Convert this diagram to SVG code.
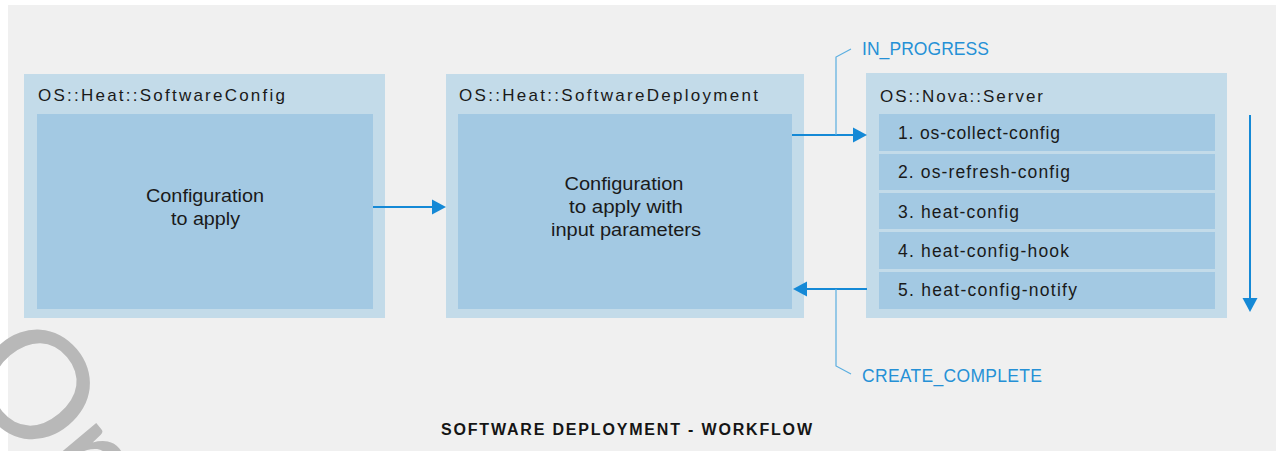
<svg xmlns="http://www.w3.org/2000/svg" width="1276" height="451" viewBox="0 0 1276 451">
  <defs>
    <style>
      .bg { fill: #f0f0f0; }
      .outer { fill: #c3dbe9; }
      .inner { fill: #a3c9e3; }
      .title { font-family: "Liberation Sans", "Noto Sans", sans-serif; font-size: 17px; fill: #1a1a1a; }
      .body { font-family: "Liberation Sans", "Noto Sans", sans-serif; font-size: 17.5px; fill: #1a1a1a; text-anchor: middle; }
      .item { font-family: "Liberation Sans", "Noto Sans", sans-serif; font-size: 17.5px; fill: #1a1a1a; }
      .status { font-family: "Liberation Sans", "Noto Sans", sans-serif; font-size: 17.5px; fill: #2590d6; }
      .caption { font-family: "Liberation Sans", "Noto Sans", sans-serif; font-size: 16px; font-weight: bold; fill: #151515; }
      .line { stroke: #1589d6; stroke-width: 2; fill: none; }
      .leader { stroke: #5aaee0; stroke-width: 1.2; fill: none; }
      .head { fill: #1589d6; }
      .wm { font-family: Lato, "Liberation Sans", sans-serif; font-weight: 400; font-size: 150px; fill: #b8b8b8; }
    </style>
  </defs>

  <rect class="bg" x="8" y="5" width="1268" height="446"/>

  <g id="node-softwareconfig">
    <rect class="outer" x="24" y="74" width="361" height="244"/>
    <rect class="inner" x="37" y="114" width="336" height="195"/>
    <text class="title" x="38" y="101" textLength="247" lengthAdjust="spacing">OS::Heat::SoftwareConfig</text>
    <text class="body" x="205" y="202" textLength="118" lengthAdjust="spacingAndGlyphs">Configuration</text>
    <text class="body" x="205.5" y="225" textLength="69" lengthAdjust="spacingAndGlyphs">to apply</text>
  </g>

  <g id="node-softwaredeployment">
    <rect class="outer" x="446" y="74" width="358" height="244"/>
    <rect class="inner" x="458" y="114" width="334" height="195"/>
    <text class="title" x="459" y="101" textLength="299" lengthAdjust="spacing">OS::Heat::SoftwareDeployment</text>
    <text class="body" x="624" y="190" textLength="119" lengthAdjust="spacingAndGlyphs">Configuration</text>
    <text class="body" x="626" y="213" textLength="114" lengthAdjust="spacingAndGlyphs">to apply with</text>
    <text class="body" x="626" y="236" textLength="150" lengthAdjust="spacingAndGlyphs">input parameters</text>
  </g>

  <g id="node-novaserver">
    <rect class="outer" x="866" y="73" width="361" height="245"/>
    <text class="title" x="880" y="102" textLength="163" lengthAdjust="spacing">OS::Nova::Server</text>
    <g id="step-1">
      <rect class="inner" x="879" y="114" width="336" height="37"/>
      <text class="item" x="898" y="139" textLength="162" lengthAdjust="spacing">1. os-collect-config</text>
    </g>
    <g id="step-2">
      <rect class="inner" x="879" y="154" width="336" height="36"/>
      <text class="item" x="898" y="178" textLength="172" lengthAdjust="spacing">2. os-refresh-config</text>
    </g>
    <g id="step-3">
      <rect class="inner" x="879" y="193" width="336" height="36"/>
      <text class="item" x="898" y="218" textLength="121" lengthAdjust="spacing">3. heat-config</text>
    </g>
    <g id="step-4">
      <rect class="inner" x="879" y="232" width="336" height="37"/>
      <text class="item" x="898" y="257" textLength="171" lengthAdjust="spacing">4. heat-config-hook</text>
    </g>
    <g id="step-5">
      <rect class="inner" x="879" y="272" width="336" height="37"/>
      <text class="item" x="898" y="296" textLength="179" lengthAdjust="spacing">5. heat-config-notify</text>
    </g>
  </g>

  <g id="connectors">
    <line class="line" x1="373" y1="207" x2="433" y2="207"/>
    <polygon class="head" points="432,199.5 446,207 432,214.5"/>

    <line class="line" x1="792" y1="135" x2="854" y2="135"/>
    <polygon class="head" points="853,127.5 867,135 853,142.5"/>
    <polyline class="leader" points="836,135 836,57 851,49"/>

    <line class="line" x1="867" y1="289" x2="806" y2="289"/>
    <polygon class="head" points="807,281.5 793,289 807,296.5"/>
    <polyline class="leader" points="836,289 836,366 851,374"/>

    <line class="line" x1="1250" y1="115" x2="1250" y2="300"/>
    <polygon class="head" points="1242.5,298 1257.5,298 1250,312"/>
  </g>

  <text class="status" x="862" y="55" textLength="127" lengthAdjust="spacing">IN_PROGRESS</text>
  <text class="status" x="862" y="382" textLength="180" lengthAdjust="spacing">CREATE_COMPLETE</text>

  <text class="caption" x="441" y="435" textLength="371" lengthAdjust="spacing">SOFTWARE DEPLOYMENT - WORKFLOW</text>

  <text class="wm" x="-45" y="373" transform="rotate(50 -45 373)">Or</text>
</svg>
